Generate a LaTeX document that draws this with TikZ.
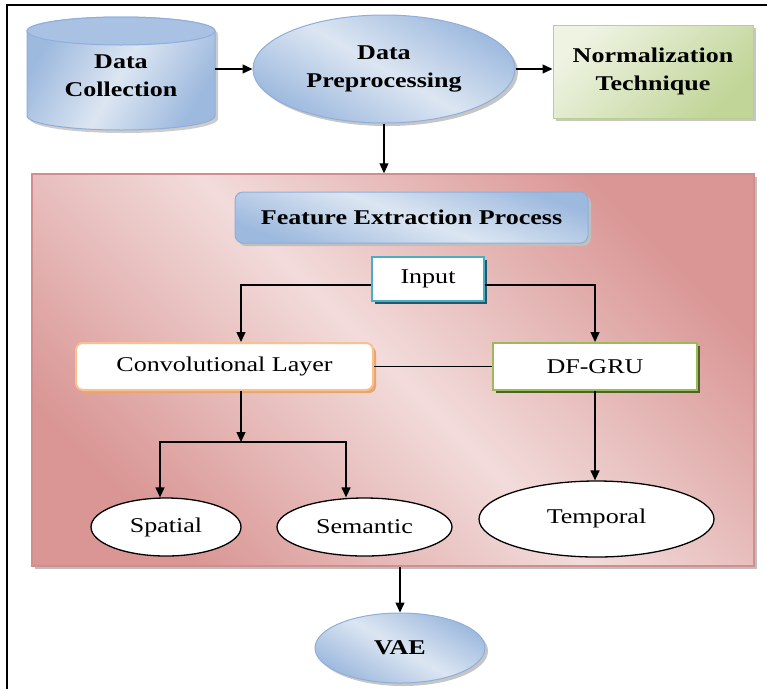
\documentclass[tikz,border=0pt]{standalone}
\usepackage{fontspec}
\setmainfont{Liberation Serif}[FakeStretch=1.24]
\usetikzlibrary{arrows.meta,shapes.geometric,shadows}
\definecolor{blueL}{HTML}{DCE6F2}
\definecolor{blueD}{HTML}{9DB9DE}
\definecolor{blueB}{HTML}{8FAEDA}
\definecolor{blueT}{HTML}{A9C1E2}
\definecolor{greenL}{HTML}{EEF3E2}
\definecolor{greenD}{HTML}{C1D598}
\definecolor{greenB}{HTML}{B9CF8C}
\definecolor{pinkL}{HTML}{F2DCDB}
\definecolor{pinkD}{HTML}{D99694}
\definecolor{pinkB}{HTML}{D28E8C}
\definecolor{cyanB}{HTML}{4BACC6}
\definecolor{cyanS}{HTML}{215968}
\definecolor{orangeB}{HTML}{FAC090}
\definecolor{orangeS}{HTML}{E8A66A}
\definecolor{greenE}{HTML}{9BBB59}
\definecolor{greenS}{HTML}{4F6228}
\begin{document}
\begin{tikzpicture}[
 x=1pt,y=1pt,
 line/.style={line width=1.3pt},
 arr/.style={line,-{Triangle[length=10pt,width=9pt]}},
 txt/.style={font=\fontsize{21}{28}\selectfont},
 heading/.style={font=\fontsize{21}{28}\selectfont\bfseries,align=center},
 oval/.style={ellipse,draw,line width=1.3pt,fill=white,inner sep=0pt,txt},
 whitebox/.style={rectangle,fill=white,line width=2pt,inner sep=0pt,txt},
 blueshade/.style={top color=blueD,bottom color=blueD,middle color=blueL,shading angle=#1},
 blueshade/.default=-30,
 dropsh/.style={drop shadow={shadow xshift=3pt,shadow yshift=-3pt,fill=#1,opacity=1}}]
 \useasboundingbox (0,0) rectangle (767,-689);
 % Outer frame, cut off at the right and at the bottom
 \draw[line width=1.6pt] (7,-689) -- (7,-5) -- (767,-5);
 % Top row: collection, preprocessing, normalization
 \fill[gray!40] (30,-34) -- (30,-119) arc (180:360:94 and 14) -- (218,-34) arc (0:180:94 and 14) -- cycle;
 \path[blueshade=60,draw=blueB,line width=1pt] (27,-31) -- (27,-116) arc (180:360:94 and 14)
   -- (215,-31) arc (0:180:94 and 14) -- cycle;
 \filldraw[fill=blueT,draw=blueB,line width=1pt] (121,-31) ellipse (94 and 14);
 \node[heading,minimum width=188pt,minimum height=113pt] (dc) at (121,-76) {Data\\Collection};
 \node[ellipse,blueshade,draw=blueB,line width=1pt,minimum width=262pt,minimum height=108pt,
   inner sep=0pt,heading,dropsh=gray!45] (dp) at (384,-69) {Data\\Preprocessing};
 \node[rectangle,top color=greenL,bottom color=greenD,shading angle=45,draw=greenB,line width=1pt,
   minimum width=200pt,minimum height=93pt,heading,dropsh=gray!45] (nt) at (653,-71.5) {Normalization\\Technique};
 \draw[arr] (dc.east |- dp.west) -- (dp.west);
 \draw[arr] (dp.east) -- (dp.east -| nt.west);
 % Feature extraction panel
 \node[rectangle,draw=pinkB,line width=1.5pt,top color=pinkD,bottom color=pinkD,middle color=pinkL,
   shading angle=-45,minimum width=722pt,minimum height=392pt,dropsh=gray!50] (fe) at (393,-370) {};
 \draw[arr] (dp.south) -- (dp.south |- fe.north);
 \node[rectangle,rounded corners=8pt,blueshade=-20,draw=blueB,line width=1pt,minimum width=353pt,
   minimum height=51pt,heading,dropsh=gray!50] (fp) at (411.5,-217.5) {Feature Extraction Process};
 \node[whitebox,draw=cyanB,minimum width=112pt,minimum height=44pt,dropsh=cyanS] (in) at (428,-279) {Input};
 \node[whitebox,rounded corners=7pt,draw=orangeB,minimum width=297pt,minimum height=47pt,
   dropsh=orangeS] (cl) at (224.5,-366.5) {Convolutional Layer};
 \node[whitebox,draw=greenE,minimum width=204pt,minimum height=47pt,dropsh=greenS] (dg) at (595,-366.5) {DF-GRU};
 \draw[arr] ([yshift=-6pt]in.west) -| ([xshift=16.5pt]cl.north);
 \draw[arr] ([yshift=-6pt]in.east) -| (dg.north);
 \draw[line] (cl.east) -- (dg.west);
 % Outputs of the two branches
 \node[oval,minimum width=150pt,minimum height=58pt] (sp) at (166,-527) {Spatial};
 \node[oval,minimum width=175pt,minimum height=58pt] (se) at (364.5,-527) {Semantic};
 \node[oval,minimum width=235pt,minimum height=76pt] (te) at (596.5,-519) {\raisebox{6pt}{Temporal}};
 \coordinate (split) at (241,-442);
 \draw[arr] (cl.south -| split) -- (split);
 \draw[arr] (split) -| ([xshift=-6pt]sp.north);
 \draw[arr] (split) -| ([xshift=-18.5pt]se.north);
 \draw[arr] (dg.south) -- (dg.south |- te.north);
 % VAE
 \node[ellipse,blueshade,draw=blueB,line width=1pt,minimum width=170pt,minimum height=70pt,
   inner sep=0pt,heading,dropsh=gray!45] (va) at (400,-648) {VAE};
 \draw[arr] (va.north |- fe.south) -- (va.north);
\end{tikzpicture}
\end{document}
